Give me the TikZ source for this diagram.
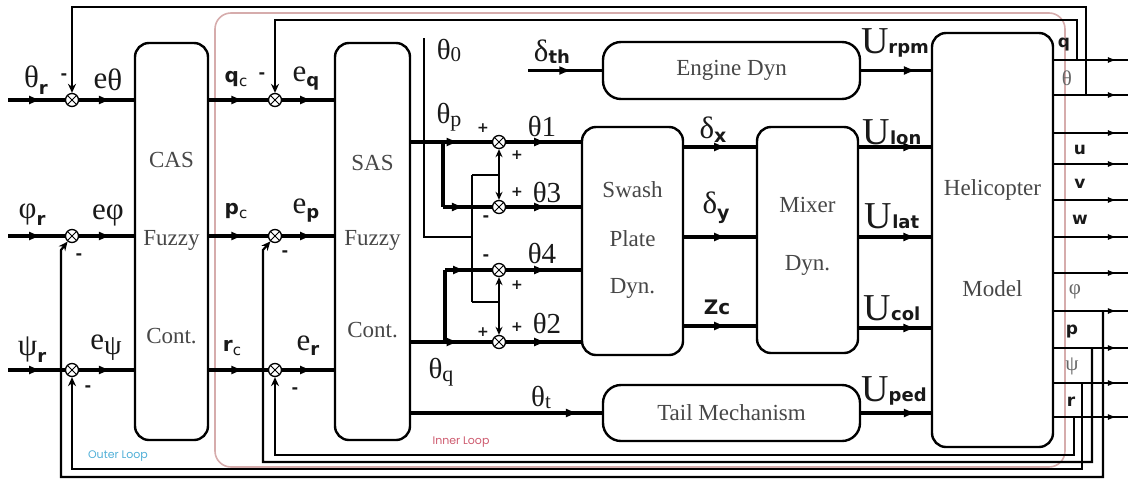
\documentclass[tikz,border=0pt]{standalone}
\usepackage{fontspec}
\setmainfont{Liberation Serif}
\newfontfamily\sansb{DejaVu Sans}
\newfontfamily\popf{Poppins}
\usetikzlibrary{arrows.meta,decorations.markings}
\newcommand\Gk[2][31]{{\fontsize{#1}{#1}\selectfont #2}}
\newcommand\Sb[2][17]{{\fontsize{#1}{#1}\sansb\bfseries #2}}
\newcommand\Sn[2][15]{{\fontsize{#1}{#1}\sansb #2}}
\definecolor{loopPink}{RGB}{214,172,172}
\definecolor{innerTxt}{RGB}{205,90,110}
\definecolor{outerTxt}{RGB}{80,175,215}
\begin{document}
\begin{tikzpicture}[x=1pt,y=-1pt,
 sig/.style={line width=3.8pt},
 sigm/.style={line width=3.2pt},
 net/.style={line width=1.8pt},
 fb/.style={line width=2.2pt},
 outl/.style={line width=2pt},
 marr/.style={decoration={markings,mark=at position #1 with {\arrow{Latex[length=13pt,width=9pt]}}},postaction={decorate}},
 marrs/.style={decoration={markings,mark=at position #1 with {\arrow{Latex[length=9pt,width=6pt]}}},postaction={decorate}},
 fbtip/.style={-{Stealth[length=9pt,width=8pt]}},
 blk/.style={draw, line width=2.4pt, rounded corners=14pt, inner sep=0pt, fill=white},
 sumj/.style={circle, draw, fill=white, line width=1.3pt, minimum size=13pt, inner sep=0pt,
   path picture={\draw[line width=1pt] (path picture bounding box.south west) -- (path picture bounding box.north east)
   (path picture bounding box.north west) -- (path picture bounding box.south east);}},
 btxt/.style={text=black!72, font=\fontsize{23}{23}\selectfont, inner sep=0pt},
 lbl/.style={inner sep=0pt, text=black!90},
 glbl/.style={inner sep=0pt, text=black!60},
]
\useasboundingbox (0,0) rectangle (1129,480);

% inner loop frame
\node[draw=loopPink, line width=1.6pt, rounded corners=16pt, minimum width=850pt, minimum height=454pt] (innerloop) at (640,240) {};

% blocks
\node[blk, minimum width=73pt, minimum height=397pt] (cas) at (171.5,241.5) {};
\node[blk, minimum width=75pt, minimum height=397pt] (sas) at (372.5,241.5) {};
\node[blk, minimum width=101pt, minimum height=228pt] (sw) at (632.5,241) {};
\node[blk, minimum width=101pt, minimum height=226pt] (mx) at (807.5,240) {};
\node[blk, rounded corners=18pt, minimum width=257pt, minimum height=57pt, btxt] (eng) at (731.5,70.5) {Engine Dyn};
\node[blk, rounded corners=18pt, minimum width=257pt, minimum height=56pt, btxt] (tail) at (731.5,413) {Tail Mechanism};
\node[blk, minimum width=121pt, minimum height=414pt] (heli) at (992.5,240) {};

% block texts
\node[btxt] (casA) at (171.5,160) {CAS};
\node[btxt] (casB) at (171.5,240) {Fuzzy};
\node[btxt] (casC) at (171.5,336) {Cont.};
\node[btxt] (sasA) at (372.5,163) {SAS};
\node[btxt] (sasB) at (372.5,240) {Fuzzy};
\node[btxt] (sasC) at (372.5,330) {Cont.};
\node[btxt] (swA) at (632.5,190) {Swash};
\node[btxt] (swB) at (632.5,239) {Plate};
\node[btxt] (swC) at (632.5,288) {Dyn.};
\node[btxt] (mxA) at (807.5,205) {Mixer};
\node[btxt] (mxB) at (807.5,265) {Dyn.};
\node[btxt] (heA) at (992.5,190) {Helicopter};
\node[btxt] (heB) at (992.5,289) {Model};

% summing junctions
\node[sumj] (s1) at (72,100) {};
\node[sumj] (s2) at (72,236) {};
\node[sumj] (s3) at (72,370) {};
\node[sumj] (j1) at (275,100) {};
\node[sumj] (j2) at (275,236) {};
\node[sumj] (j3) at (275,370) {};
\node[sumj] (k1) at (499,142) {};
\node[sumj] (k3) at (499,207) {};
\node[sumj] (k4) at (499,270) {};
\node[sumj] (k2) at (499,342) {};

% inputs
\coordinate (i1) at (8,100);
\coordinate (i2) at (8,236);
\coordinate (i3) at (8,370);
\draw[sig,marr=0.6] (i1) -- (s1);
\draw[sig,marr=0.6] (i2) -- (s2);
\draw[sig,marr=0.6] (i3) -- (s3);
\draw[sig,marr=0.6] (s1) -- (s1 -| cas.west);
\draw[sig,marr=0.6] (s2) -- (s2 -| cas.west);
\draw[sig,marr=0.6] (s3) -- (s3 -| cas.west);
\draw[sig,marr=0.6] (cas.east |- j1) -- (j1);
\draw[sig,marr=0.6] (cas.east |- j2) -- (j2);
\draw[sig,marr=0.6] (cas.east |- j3) -- (j3);
\draw[sig,marr=0.6] (j1) -- (j1 -| sas.west);
\draw[sig,marr=0.6] (j2) -- (j2 -| sas.west);
\draw[sig,marr=0.6] (j3) -- (j3 -| sas.west);

% theta_p and theta_q distribution
\coordinate (bp) at (443,142);
\coordinate (bp2) at (443,207);
\coordinate (bq) at (445,342);
\coordinate (bq2) at (445,270);
\draw[sig,marr=0.6] (sas.east |- k1) -- (k1);
\draw[sig,marr=0.6] (sas.east |- k2) -- (k2);
\draw[sig] (bp) -- (bp2);
\draw[sig,marr=0.45] (bp2) -- (k3);
\draw[sig] (bq) -- (bq2);
\draw[sig,marr=0.45] (bq2) -- (k4);

% theta_0 network
\coordinate (t0top) at (424,38);
\coordinate (t0b) at (424,237);
\coordinate (t0r) at (472,237);
\coordinate (t0u) at (472,175);
\coordinate (t0d) at (472,302);
\coordinate (c13) at (499,175);
\coordinate (c42) at (499,302);
\draw[net] (t0top) -- (t0b) -- (t0r);
\draw[net] (t0u) -- (t0d);
\draw[net] (t0u) -- (c13);
\draw[net] (t0d) -- (c42);
\draw[net,-{Stealth[length=8pt,width=7pt]}] (c13) -- (k1);
\draw[net,-{Stealth[length=8pt,width=7pt]}] (c13) -- (k3);
\draw[net,-{Stealth[length=8pt,width=7pt]}] (c42) -- (k4);
\draw[net,-{Stealth[length=8pt,width=7pt]}] (c42) -- (k2);

% junctions to swash plate
\draw[sigm,marr=0.55] (k1) -- (k1 -| sw.west);
\draw[sigm,marr=0.55] (k3) -- (k3 -| sw.west);
\draw[sigm,marr=0.55] (k4) -- (k4 -| sw.west);
\draw[sigm,marr=0.55] (k2) -- (k2 -| sw.west);

% tail and throttle
\draw[sig,marr=0.88] (sas.east |- tail.west) -- (tail.west);
\coordinate (dth) at (528,70.5);
\draw[sig,marr=0.6] (dth) -- (eng.west);

% swash to mixer
\coordinate (rdx) at (700,147);
\coordinate (rdy) at (700,237);
\coordinate (rzc) at (700,326);
\draw[sig,marr=0.6] (sw.east |- rdx) -- (mx.west |- rdx);
\draw[sig,marr=0.6] (sw.east |- rdy) -- (mx.west |- rdy);
\draw[sig,marr=0.6] (sw.east |- rzc) -- (mx.west |- rzc);

% mixer / engine / tail to helicopter
\coordinate (rul) at (900,147);
\coordinate (rua) at (900,237);
\coordinate (ruc) at (900,328);
\draw[sig,marr=0.8] (mx.east |- rul) -- (heli.west |- rul);
\draw[sig,marr=0.8] (mx.east |- rua) -- (heli.west |- rua);
\draw[sig,marr=0.8] (mx.east |- ruc) -- (heli.west |- ruc);
\draw[sig,marr=0.8] (eng.east) -- (heli.west |- eng.east);
\draw[sig,marr=0.8] (tail.east) -- (heli.west |- tail.east);

% helicopter outputs
\foreach \yy/\nn in {60/q,95/th,133/a,164/u,200/v,237/w,273/b,311/phi,348/p,383/psi,417/r}{
  \coordinate (o\nn) at (1128,\yy);
  \draw[outl,marrs=0.85] (heli.east |- o\nn) -- (o\nn);
}

% feedback loops
\coordinate (thv) at (1086,95);
\coordinate (tht) at (1086,7);
\draw[fb,fbtip] (thv) -- (tht) -| (s1);
\coordinate (qv) at (1077,60);
\coordinate (qt) at (1077,20);
\draw[fb,fbtip] (qv) -- (qt) -| (j1);
\coordinate (phv) at (1103,311);
\coordinate (phb) at (1103,477);
\coordinate (phl) at (61,477);
\coordinate (phu) at (61,250);
\draw[fb,fbtip] (phv) -- (phb) -- (phl) -- (phu) -- (s2);
\coordinate (pv) at (1092,348);
\coordinate (pb) at (1092,462);
\coordinate (pl) at (263,462);
\coordinate (pu) at (263,250);
\draw[fb,fbtip] (pv) -- (pb) -- (pl) -- (pu) -- (j2);
\coordinate (psv) at (1082,383);
\coordinate (psb) at (1082,469);
\draw[fb,fbtip] (psv) -- (psb) -| (s3);
\coordinate (rv) at (1074,417);
\coordinate (rb) at (1074,455);
\draw[fb,fbtip] (rv) -- (rb) -| (j3);

% loop captions
\node[inner sep=0pt, text=outerTxt, font=\popf\fontsize{11}{11}\selectfont] (outercap) at (118,456) {Outer Loop};
\node[inner sep=0pt, text=innerTxt, font=\popf\fontsize{11}{11}\selectfont] (innercap) at (461,442) {Inner Loop};

% left labels
\node[lbl] (Lthr) at (36,80) {\Gk{θ}\raisebox{-7pt}{\Sb[18]{r}}};
\node[lbl] (Leth) at (108,80) {\Gk{e}\raisebox{-2pt}{\Gk{θ}}};
\node[lbl] (Lphr) at (32,215) {\Gk{φ}\raisebox{-7pt}{\Sb[18]{r}}};
\node[lbl] (Leph) at (108,215) {\Gk{eφ}};
\node[lbl] (Lpsr) at (32,350) {\Gk{ψ}\raisebox{-7pt}{\Sb[18]{r}}};
\node[lbl] (Leps) at (106,348) {\Gk{e}\raisebox{-5pt}{\Gk[28]{ψ}}};
\node[lbl] (m1) at (64,77) {\Sb[16]{-}};
\node[lbl] (m2) at (79,257) {\Sb[16]{-}};
\node[lbl] (m3) at (88,389) {\Sb[16]{-}};

% CAS output labels
\node[lbl] (Lqc) at (236,79) {\Sb[20]{q}\raisebox{-4pt}{\Sn{c}}};
\node[lbl] (m4) at (262,76) {\Sb[16]{-}};
\node[lbl] (Leq) at (306,79) {\Gk{e}\raisebox{-5pt}{\Sb[18]{q}}};
\node[lbl] (Lpc) at (236,211) {\Sb[20]{p}\raisebox{-4pt}{\Sn{c}}};
\node[lbl] (Lep) at (306,211) {\Gk{e}\raisebox{-5pt}{\Sb[18]{p}}};
\node[lbl] (m5) at (285,254) {\Sb[16]{-}};
\node[lbl] (Lrc) at (232,348) {\Sb[20]{r}\raisebox{-4pt}{\Sn{c}}};
\node[lbl] (Ler) at (308,346) {\Gk{e}\raisebox{-5pt}{\Sb[18]{r}}};
\node[lbl] (m6) at (295,391) {\Sb[16]{-}};

% SAS output labels
\node[lbl] (Lt0) at (449,50) {\Gk[29]{θ}\raisebox{-2pt}{\Gk[21]{0}}};
\node[lbl] (Ltp) at (449,117) {\Gk[29]{θ}\raisebox{-3pt}{\Gk[22]{p}}};
\node[lbl] (Ltq) at (441,372) {\Gk[29]{θ}\raisebox{-3pt}{\Gk[22]{q}}};
\node[lbl] (Ltt) at (541,397) {\Gk[29]{θ}\raisebox{-2pt}{\Gk[21]{t}}};
\node[lbl] (Lt1) at (542,126) {\Gk[29]{θ1}};
\node[lbl] (Lt3) at (547,192) {\Gk[29]{θ3}};
\node[lbl] (Lt4) at (542,253) {\Gk[29]{θ4}};
\node[lbl] (Lt2) at (547,323) {\Gk[29]{θ2}};
\node[lbl] (p1) at (483,128) {\Sb[14]{+}};
\node[lbl] (p2) at (517,155) {\Sb[14]{+}};
\node[lbl] (p3) at (517,192) {\Sb[14]{+}};
\node[lbl] (m7) at (486,219) {\Sb[16]{-}};
\node[lbl] (m8) at (486,258) {\Sb[16]{-}};
\node[lbl] (p4) at (517,285) {\Sb[14]{+}};
\node[lbl] (p5) at (483,332) {\Sb[14]{+}};
\node[lbl] (p6) at (517,327) {\Sb[14]{+}};
\node[lbl] (Ldth) at (552,52) {\Gk{δ}\raisebox{-2pt}{\Sb[18]{th}}};

% swash/mixer labels
\node[lbl] (Ldx) at (713,130) {\Gk{δ}\raisebox{-4pt}{\Sb[19]{x}}};
\node[lbl] (Ldy) at (716,208) {\Gk{δ}\raisebox{-6pt}{\Sb[19]{y}}};
\node[lbl] (Lzc) at (717,307) {\Sb[20]{Zc}};

% U labels
\node[lbl] (Urpm) at (895,43) {\Gk[38]{U}\Sb[18]{rpm}};
\node[lbl] (Ulon) at (892,132) {\Gk[38]{U}\Sb[18]{lon}};
\node[lbl] (Ulat) at (892,216) {\Gk[38]{U}\Sb[18]{lat}};
\node[lbl] (Ucol) at (892,308) {\Gk[38]{U}\Sb[18]{col}};
\node[lbl] (Uped) at (894,391) {\Gk[38]{U}\Sb[18]{ped}};

% output labels
\node[lbl] (Oq) at (1064,45) {\Sb[17]{q}};
\node[glbl] (Oth) at (1067,78) {\Gk[21]{θ}};
\node[lbl] (Ou) at (1080,150) {\Sb[17]{u}};
\node[lbl] (Ov) at (1080,184) {\Sb[17]{v}};
\node[lbl] (Ow) at (1080,220) {\Sb[17]{w}};
\node[glbl] (Oph) at (1075,292) {\Gk[21]{φ}};
\node[lbl] (Op) at (1072,331) {\Sb[17]{p}};
\node[glbl] (Ops) at (1072,366) {\Gk[21]{ψ}};
\node[lbl] (Or) at (1071,402) {\Sb[17]{r}};
\end{tikzpicture}
\end{document}
